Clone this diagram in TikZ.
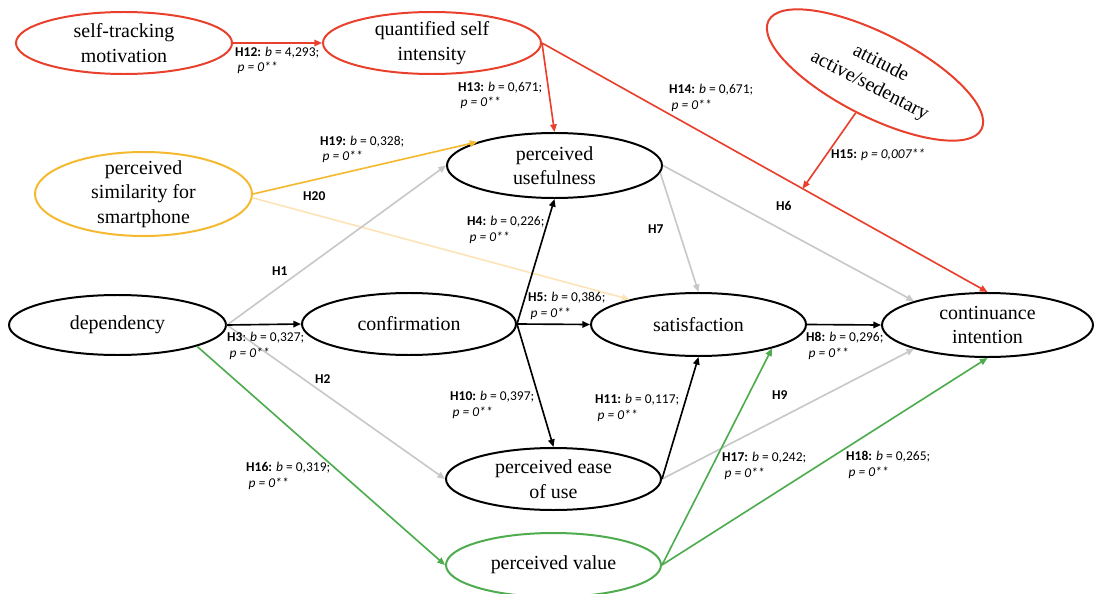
\documentclass[tikz,border=0pt]{standalone}
\usepackage{fontspec}
\setmainfont{Liberation Serif}
\newfontfamily\varfont{Liberation Serif}
\newfontfamily\labfont{Carlito}
\usetikzlibrary{arrows.meta,shapes.geometric,calc}

\definecolor{redC}{RGB}{232,64,44}
\definecolor{orangeC}{RGB}{245,185,48}
\definecolor{paleC}{RGB}{252,228,184}
\definecolor{greenC}{RGB}{78,172,78}
\definecolor{grayC}{RGB}{200,200,200}

\begin{document}
\begin{tikzpicture}[x=0.03cm,y=-0.03cm,
  var/.style={ellipse, draw, line width=1.7pt, inner xsep=0pt, inner ysep=-10pt,
              align=center, font=\varfont\fontsize{17}{21}\selectfont},
  conn/.style={line width=1.4pt, -{Triangle[length=6.5pt,width=5.5pt]}},
  lab/.style={anchor=west, inner sep=0pt, align=left,
              font=\labfont\fontsize{11.5}{13.5}\selectfont},
]
\useasboundingbox (0,0) rectangle (1094,594);

% constructs
\node[var, draw=redC, minimum width=6.48cm, minimum height=1.86cm] (st) at (124,43) {self-tracking\\motivation};
\node[var, draw=redC, minimum width=6.54cm, minimum height=1.86cm] (qs) at (432,43) {quantified self\\intensity};
\node[var, draw=redC, minimum width=7.17cm, minimum height=2.49cm, rotate=-27] (att) at (875,75) {attitude\\active/sedentary};
\node[var, minimum width=6.45cm, minimum height=1.95cm] (pu) at (554.5,165.5) {perceived\\usefulness};
\node[var, draw=orangeC, minimum width=6.51cm, minimum height=2.52cm] (ps) at (143.5,194) {perceived\\similarity for\\smartphone};
\node[var, minimum width=6.51cm, minimum height=1.8cm] (dep) at (117.5,325) {dependency};
\node[var, minimum width=6.42cm, minimum height=1.86cm] (conf) at (409,324) {confirmation};
\node[var, minimum width=6.45cm, minimum height=1.89cm] (sat) at (698.5,324.5) {satisfaction};
\node[var, minimum width=6.33cm, minimum height=1.92cm] (ci) at (987.5,325) {continuance\\intention};
\node[var, minimum width=6.45cm, minimum height=1.86cm] (peou) at (553.5,479) {perceived ease\\of use};
\node[var, draw=greenC, minimum width=6.45cm, minimum height=1.92cm] (pv) at (553.5,565) {perceived value};

% paths
\draw[conn, redC] (st.east) -- (qs.west);
\draw[conn, redC] (qs.east) -- (pu.north);
\draw[conn, redC] (qs.east) -- (ci.north);
\coordinate (h15end) at ($(qs.east)!0.585!(ci.north)$);
\draw[conn, redC] (att.south) -- (h15end);

\draw[conn, paleC] (ps.-2) -- (sat.160);
\draw[conn, orangeC] (ps.east) -- (pu.163);

\draw[conn, grayC] (dep.east) -- (pu.west);
\draw[conn, grayC] (dep.east) -- (peou.west);
\draw[conn, grayC] (pu.east) -- (ci.162);
\draw[conn, grayC] (pu.-4) -- (sat.north);
\draw[conn, grayC] (peou.east) -- (ci.198);

\draw[conn] (dep.east) -- (conf.west);
\draw[conn] (conf.east) -- (pu.south);
\draw[conn] (conf.east) -- (sat.west);
\draw[conn] (conf.east) -- (peou.north);
\draw[conn] (sat.east) -- (ci.west);
\draw[conn] (peou.east) -- (sat.south);

\draw[conn, greenC] (dep.-15) -- (pv.west);
\draw[conn, greenC] (pv.east) -- (sat.-18);
\draw[conn, greenC] (pv.east) -- (ci.south);

% coefficients
\node[lab] (l12) at (235,60.5) {\textbf{H12:} \textit{b} = 4,293;\\\hspace{2pt}\textit{p = 0**}};
\node[lab] (l13) at (458,95.5) {\textbf{H13:} \textit{b} = 0,671;\\\hspace{2pt}\textit{p = 0**}};
\node[lab] (l14) at (669,98) {\textbf{H14:} \textit{b} = 0,671;\\\hspace{2pt}\textit{p = 0**}};
\node[lab] (l15) at (831,155) {\textbf{H15:} \textit{p = 0,007**}};
\node[lab] (l19) at (320,149.5) {\textbf{H19:} \textit{b} = 0,328;\\\hspace{2pt}\textit{p = 0**}};
\node[lab] (l20) at (303,196) {\textbf{H20}};
\node[lab] (l1) at (272,271) {\textbf{H1}};
\node[lab] (l4) at (467,229.5) {\textbf{H4:} \textit{b} = 0,226;\\\hspace{2pt}\textit{p = 0**}};
\node[lab] (l7) at (648,229) {\textbf{H7}};
\node[lab] (l6) at (776,206) {\textbf{H6}};
\node[lab] (l5) at (528,305.5) {\textbf{H5:} \textit{b} = 0,386;\\\hspace{2pt}\textit{p = 0**}};
\node[lab] (l3) at (227,345.5) {\textbf{H3}: \textit{b} = 0,327;\\\hspace{2pt}\textit{p = 0**}};
\node[lab] (l8) at (806,345.5) {\textbf{H8:} \textit{b} = 0,296;\\\hspace{2pt}\textit{p = 0**}};
\node[lab] (l2) at (315,379) {\textbf{H2}};
\node[lab] (l10) at (450,404.5) {\textbf{H10:} \textit{b} = 0,397;\\\hspace{2pt}\textit{p = 0**}};
\node[lab] (l11) at (595,408) {\textbf{H11:} \textit{b} = 0,117;\\\hspace{2pt}\textit{p = 0**}};
\node[lab] (l9) at (772,395) {\textbf{H9}};
\node[lab] (l16) at (246,475.5) {\textbf{H16:} \textit{b} = 0,319;\\\hspace{2pt}\textit{p = 0**}};
\node[lab] (l17) at (722,466) {\textbf{H17:} \textit{b} = 0,242;\\\hspace{2pt}\textit{p = 0**}};
\node[lab] (l18) at (846,464.5) {\textbf{H18:} \textit{b} = 0,265;\\\hspace{2pt}\textit{p = 0**}};
\end{tikzpicture}
\end{document}
